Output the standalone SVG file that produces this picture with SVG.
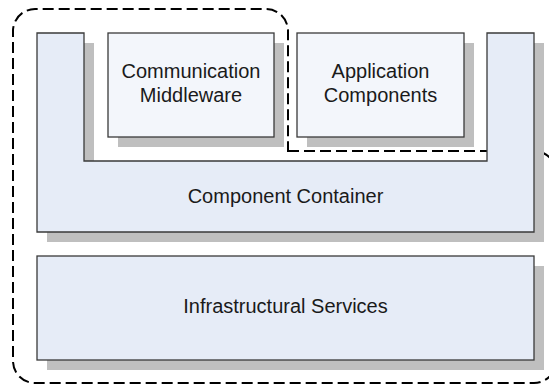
<svg xmlns="http://www.w3.org/2000/svg" width="549" height="385" viewBox="0 0 549 385">
<style>
.shadow{fill:#bfbfbf;stroke:none}
.box{stroke:#3a3a3a;stroke-width:1.3}
.outer{fill:#e6ecf7}
.inner{fill:#f3f6fb}
.dash{fill:none;stroke:#000;stroke-width:2;stroke-dasharray:11 5}
text{font-family:"Liberation Sans",Arial,sans-serif;font-size:20px;fill:#1a1a1a;text-anchor:middle}
</style>
<rect width="549" height="385" fill="#fff"/>
<g id="connectors">
<path class="dash" d="M288,151 H534 A22,22 0 0 1 556,173 V361 A22,22 0 0 1 534,383 H35 A22,22 0 0 1 13,361 V31 A22,22 0 0 1 35,9 H266 A22,22 0 0 1 288,31 Z"/>
</g>
<g id="component-container">
<path class="shadow" d="M47,43 H94 V171 H497 V43 H544 V242 H47 Z"/>
<path class="box outer" d="M37,33 H84 V161 H487 V33 H534 V232 H37 Z"/>
<text x="285.5" y="203">Component Container</text>
</g>
<g id="communication-middleware">
<rect class="shadow" x="118" y="43" width="166" height="104"/>
<rect class="box inner" x="108" y="33" width="166" height="104"/>
<text x="191" y="78">Communication</text>
<text x="191" y="102">Middleware</text>
</g>
<g id="application-components">
<rect class="shadow" x="307" y="43" width="167" height="104"/>
<rect class="box inner" x="297" y="33" width="167" height="104"/>
<text x="380.5" y="78">Application</text>
<text x="380.5" y="102">Components</text>
</g>
<g id="infrastructural-services">
<rect class="shadow" x="47" y="266" width="497" height="104"/>
<rect class="box outer" x="37" y="256" width="497" height="104"/>
<text x="285.5" y="313">Infrastructural Services</text>
</g>
</svg>
